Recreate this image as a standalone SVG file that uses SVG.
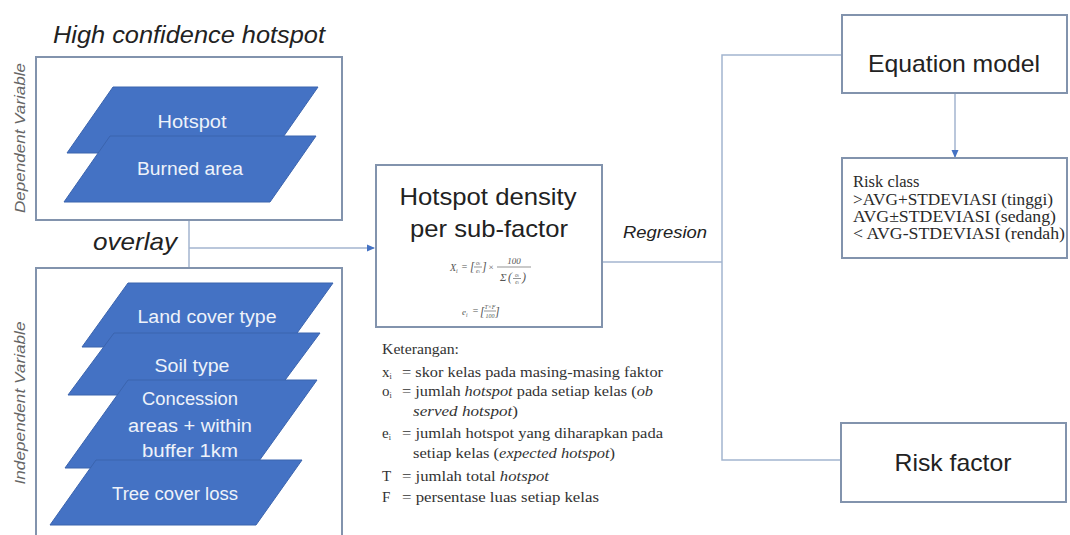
<svg xmlns="http://www.w3.org/2000/svg" width="1070" height="535" viewBox="0 0 1070 535">
<style>
.box{fill:#fff;stroke:#8293AD;stroke-width:2}
.para{fill:#4472C4;stroke:#3B64AE;stroke-width:1}
.pt{font-family:"Liberation Sans",Arial,sans-serif;font-size:18px;fill:#EEF2FA;text-anchor:middle}
.big{font-family:"Liberation Sans",Arial,sans-serif;font-size:24px;fill:#222;text-anchor:middle}
.ital{font-family:"Liberation Sans",Arial,sans-serif;font-style:italic;fill:#222}
.side{font-family:"Liberation Sans",Arial,sans-serif;font-style:italic;font-size:15px;fill:#666;text-anchor:middle}
.conn{fill:none;stroke:#A3B5CF;stroke-width:1.5}
.ser{font-family:"Liberation Serif","Times New Roman",serif;font-size:15px;fill:#333}
.rc{font-family:"Liberation Serif","Times New Roman",serif;font-size:16.5px;fill:#2a2a2a}
.m{font-family:"Liberation Serif","Times New Roman",serif;font-style:italic;fill:#555}
.mb{stroke:#666;stroke-width:0.7;fill:none}
</style>
<defs>
<marker id="ah" markerWidth="8" markerHeight="8" refX="7" refY="4" orient="auto" markerUnits="userSpaceOnUse">
<path d="M0,0.5 L8,4 L0,7.5 Z" fill="#4472C4"/>
</marker>
</defs>
<rect width="1070" height="535" fill="#fff"/>

<g id="connectors">
<polyline class="conn" points="189,220 189,268"/>
<polyline class="conn" points="189,248 374,248" marker-end="url(#ah)"/>
<polyline class="conn" points="602,262 722,262"/>
<polyline class="conn" points="842,55 722,55 722,460 842,460"/>
<polyline class="conn" points="955,93 955,157" marker-end="url(#ah)"/>
</g>

<g id="dependent">
<text class="ital" x="189" y="43" font-size="24" text-anchor="middle" textLength="272" lengthAdjust="spacingAndGlyphs">High confidence hotspot</text>
<rect class="box" x="36" y="57" width="306" height="163"/>
<text class="side" transform="translate(25,138) rotate(-90)" textLength="150" lengthAdjust="spacingAndGlyphs">Dependent Variable</text>
<g id="hotspot">
<polygon class="para" points="113,87 318,87 272,153 67,153"/>
<text class="pt" x="192" y="128" textLength="69" lengthAdjust="spacingAndGlyphs">Hotspot</text>
</g>
<g id="burned-area">
<polygon class="para" points="110,136 316,136 270,202 64,202"/>
<text class="pt" x="190" y="175" textLength="106" lengthAdjust="spacingAndGlyphs">Burned area</text>
</g>
</g>

<text class="ital" x="135" y="250" font-size="24" text-anchor="middle" textLength="84" lengthAdjust="spacingAndGlyphs">overlay</text>

<g id="independent">
<rect class="box" x="36" y="268" width="306" height="280"/>
<text class="side" transform="translate(25,403) rotate(-90)" textLength="163" lengthAdjust="spacingAndGlyphs">Independent Variable</text>
<g id="land-cover">
<polygon class="para" points="128,283 333,283 287,347 82,347"/>
<text class="pt" x="207" y="323" textLength="139" lengthAdjust="spacingAndGlyphs">Land cover type</text>
</g>
<g id="soil">
<polygon class="para" points="114,333 320,333 274,395 68,395"/>
<text class="pt" x="192" y="372" textLength="75" lengthAdjust="spacingAndGlyphs">Soil type</text>
</g>
<g id="concession">
<polygon class="para" points="128,380 317,380 254,468 65,468"/>
<text class="pt" x="190" y="405" textLength="96" lengthAdjust="spacingAndGlyphs">Concession</text>
<text class="pt" x="190" y="432" textLength="124" lengthAdjust="spacingAndGlyphs">areas + within</text>
<text class="pt" x="190" y="457" textLength="96" lengthAdjust="spacingAndGlyphs">buffer 1km</text>
</g>
<g id="tree-cover">
<polygon class="para" points="96,460 302,460 256,525 50,525"/>
<text class="pt" x="175" y="500" textLength="126" lengthAdjust="spacingAndGlyphs">Tree cover loss</text>
</g>
</g>

<g id="density">
<rect class="box" x="376" y="165" width="226" height="162"/>
<text class="big" x="488" y="205" textLength="177" lengthAdjust="spacingAndGlyphs">Hotspot density</text>
<text class="big" x="489" y="237" textLength="158" lengthAdjust="spacingAndGlyphs">per sub-factor</text>
<g id="formula1">
<text class="m" x="450" y="271" font-size="10">X<tspan font-size="6" dy="2">i</tspan></text>
<text class="m" x="461" y="270" font-size="10" font-style="normal">=</text>
<text class="m" x="470" y="271" font-size="12" font-style="normal">[</text>
<text class="m" x="478" y="265" font-size="6" text-anchor="middle">o<tspan font-size="4">i</tspan></text>
<line class="mb" x1="474" y1="267" x2="482" y2="267"/>
<text class="m" x="478" y="273" font-size="6" text-anchor="middle">e<tspan font-size="4">i</tspan></text>
<text class="m" x="482" y="271" font-size="12" font-style="normal">]</text>
<text class="m" x="488" y="270" font-size="9" font-style="normal">×</text>
<text class="m" x="514" y="264" font-size="9" font-style="normal" text-anchor="middle">100</text>
<line class="mb" x1="497" y1="267" x2="531" y2="267"/>
<text class="m" x="500" y="281" font-size="11" font-style="normal">Σ</text>
<text class="m" x="508" y="281" font-size="12" font-style="normal">(</text>
<text class="m" x="517" y="277" font-size="5.5" text-anchor="middle">o<tspan font-size="4">i</tspan></text>
<line class="mb" x1="513" y1="278.5" x2="521" y2="278.5"/>
<text class="m" x="517" y="284" font-size="5.5" text-anchor="middle">e<tspan font-size="4">i</tspan></text>
<text class="m" x="522" y="281" font-size="12" font-style="normal">)</text>
</g>
<g id="formula2">
<text class="m" x="462" y="315" font-size="9">e<tspan font-size="5.5" dy="2">i</tspan></text>
<text class="m" x="472" y="314" font-size="10" font-style="normal">=</text>
<text class="m" x="480" y="316" font-size="12" font-style="normal">[</text>
<text class="m" x="490" y="309" font-size="6" text-anchor="middle">T×F</text>
<line class="mb" x1="484" y1="311" x2="496" y2="311"/>
<text class="m" x="490" y="318" font-size="6" font-style="normal" text-anchor="middle">100</text>
<text class="m" x="495" y="316" font-size="12" font-style="normal">]</text>
</g>
</g>

<text class="ital" x="623" y="238" font-size="16" textLength="84" lengthAdjust="spacingAndGlyphs">Regresion</text>

<g id="keterangan" class="ser">
<text x="382" y="354" textLength="77" lengthAdjust="spacingAndGlyphs">Keterangan:</text>
<text x="382" y="377">x<tspan font-size="8" dy="2">i</tspan></text>
<text x="402" y="377" textLength="261" lengthAdjust="spacingAndGlyphs">= skor kelas pada masing-masing faktor</text>
<text x="382" y="396">o<tspan font-size="8" dy="2">i</tspan></text>
<text x="402" y="396" textLength="251" lengthAdjust="spacingAndGlyphs">= jumlah <tspan font-style="italic">hotspot</tspan> pada setiap kelas (<tspan font-style="italic">ob</tspan></text>
<text x="413" y="416" font-style="italic" textLength="105" lengthAdjust="spacingAndGlyphs">served hotspot<tspan font-style="normal">)</tspan></text>
<text x="382" y="438">e<tspan font-size="8" dy="2">i</tspan></text>
<text x="402" y="438" textLength="261" lengthAdjust="spacingAndGlyphs">= jumlah hotspot yang diharapkan pada</text>
<text x="413" y="458" textLength="202" lengthAdjust="spacingAndGlyphs">setiap kelas (<tspan font-style="italic">expected hotspot</tspan>)</text>
<text x="382" y="481">T</text>
<text x="402" y="481" textLength="147" lengthAdjust="spacingAndGlyphs">= jumlah total <tspan font-style="italic">hotspot</tspan></text>
<text x="382" y="502">F</text>
<text x="402" y="502" textLength="197" lengthAdjust="spacingAndGlyphs">= persentase luas setiap kelas</text>
</g>

<g id="equation-model">
<rect class="box" x="842" y="15" width="225" height="78"/>
<text class="big" x="954" y="72" font-size="25" textLength="172" lengthAdjust="spacingAndGlyphs">Equation model</text>
</g>

<g id="risk-class" class="rc">
<rect class="box" x="842" y="158" width="225" height="100"/>
<text x="853" y="187">Risk class</text>
<text x="853" y="205" textLength="200" lengthAdjust="spacingAndGlyphs">&gt;AVG+STDEVIASI (tinggi)</text>
<text x="853" y="222" textLength="203" lengthAdjust="spacingAndGlyphs">AVG±STDEVIASI (sedang)</text>
<text x="853" y="239" textLength="212" lengthAdjust="spacingAndGlyphs">&lt; AVG-STDEVIASI (rendah)</text>
</g>

<g id="risk-factor">
<rect class="box" x="841" y="423" width="225" height="79"/>
<text class="big" x="953" y="471" font-size="25" textLength="117" lengthAdjust="spacingAndGlyphs">Risk factor</text>
</g>
</svg>
